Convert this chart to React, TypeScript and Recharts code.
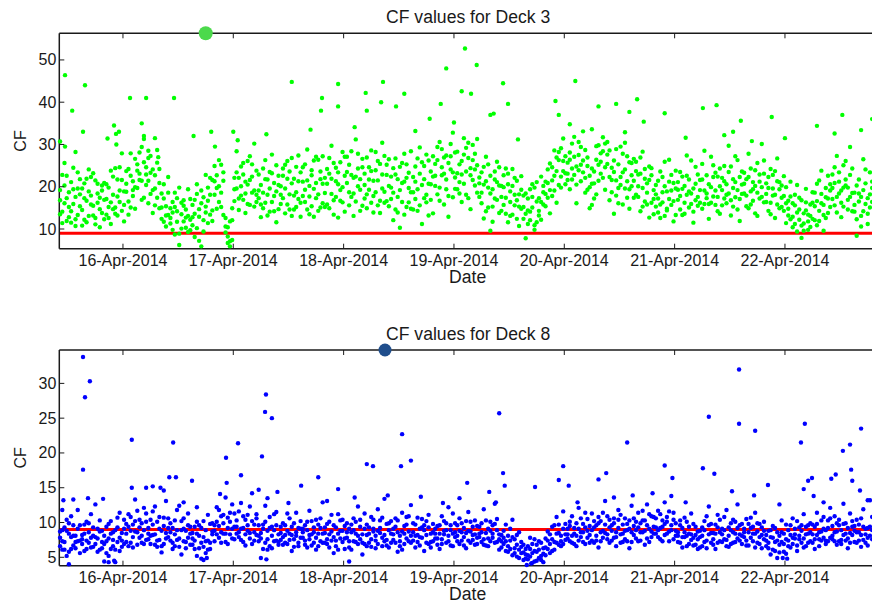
import { ScatterChart, Scatter, XAxis, YAxis, ReferenceLine } from "recharts"

const dayTicks = [16, 17, 18, 19, 20, 21, 22]
const deck3Ticks = [10, 20, 30, 40, 50]
const deck8Ticks = [5, 10, 15, 20, 25, 30]
const threshold = 9

// rows are [day of April, reading, reading, reading]
const deck3Rows: number[][] = [
  [15.43,13.5,19.2,16.8],[15.45,22.8,11.4,14.1],[15.47,16.1,25.6,20.3],[15.49,11.9,17.3,22.6],[15.51,18.7,12.8,15.2],[15.53,14.2,21.1,11.5],[15.55,24.5,15.9,19.4],[15.57,12.3,10.7,17.6],[15.59,19.6,23.4,13.3],[15.61,15.4,18.2,21.8],
  [15.63,10.8,14.5,19.6],[15.65,17.3,20.8,12.2],[15.67,21.9,11.6,16.7],[15.69,13.1,24.1,18.9],[15.71,15.8,17.9,22.3],[15.73,23.2,13.2,15.5],[15.75,12.6,21.5,11.1],[15.77,18.4,16.2,20.7],[15.79,14.7,10.4,17.4],[15.81,20.3,19.1,13.8],
  [15.83,16.9,12.3,20.9],[15.85,13.4,20.6,17.1],[15.87,19.8,15.2,12.6],[15.89,11.2,23.8,16.3],[15.91,22.4,18.1,14.7],[15.93,15.1,13.6,24.4],[15.95,17.7,21.7,13.2],[15.97,24.6,16.4,19.1],[15.99,14.3,27.9,21.6],[16.01,18.9,11.8,15.7],
  [16.03,23.7,18.8,20.7],[16.05,16.5,24.2,13.4],[16.07,27.9,15.1,22.6],[16.09,19.2,21.3,17.8],[16.11,14.8,26.6,19.9],[16.13,25.3,19.7,23.8],[16.15,21.6,23.1,28.1],[16.17,29.4,16.9,21.4],[16.19,17.4,25.8,31.3],[16.21,22.9,20.4,24.6],
  [16.23,26.8,16.1,21.4],[16.25,18.3,23.3,27.3],[16.27,24.1,13.8,19.2],[16.29,15.6,19.6,22.7],[16.31,28.7,25.7,17.4],[16.33,20.9,14.9,24.2],[16.35,12.4,18.4,15.1],[16.37,17.2,11.7,20.6],[16.39,10.6,15.4,13.2],[16.41,22.3,13.3,18.6],
  [16.43,14.9,11.3,12.6],[16.45,9.8,16.4,13.9],[16.47,18.6,8.7,15.2],[16.49,11.7,14.2,17.3],[16.51,6.2,19.8,8.9],[16.53,13.5,10.1,16.2],[16.55,16.8,15.5,11.8],[16.57,10.3,12.7,14.6],[16.59,19.4,9.3,13.1],[16.61,12.2,17.1,9.7],
  [16.63,15.7,10.9,12.8],[16.65,8.1,13.6,16.9],[16.67,20.6,18.3,10.2],[16.69,12.9,7.2,14.7],[16.71,5.9,16.1,19.1],[16.73,17.5,12.1,9.4],[16.75,22.8,15.3,13.9],[16.77,11.4,19.8,16.7],[16.79,18.1,13.4,22.1],[16.81,14.4,21.6,11.9],
  [16.83,24.9,18.1,21.3],[16.85,19.7,22.7,14.8],[16.87,26.3,16.4,20.1],[16.89,15.2,25.2,18.6],[16.91,21.4,13.3,23.4],[16.93,9.2,10.6,12.6],[16.95,6.7,8.2,10.4],[16.97,11.8,5.9,7.1],[16.99,7.4,12.1,14.9],[17.01,16.6,19.4,22.1],
  [17.03,28.4,19.6,23.4],[17.05,22.1,14.5,17.2],[17.07,17.9,24.8,20.1],[17.09,25.6,16.9,22.9],[17.11,13.8,21.2,18.4],[17.13,20.5,26.1,15.9],[17.15,27.2,15.7,21.6],[17.17,18.6,22.4,25.3],[17.19,15.3,30.2,19.1],[17.21,23.8,18.1,16.4],
  [17.23,19.1,22.9,17.3],[17.25,12.8,15.8,20.4],[17.27,24.3,18.6,14.9],[17.29,16.2,26.3,21.8],[17.31,21.7,13.2,18.1],[17.33,14.1,23.5,19.6],[17.35,27.6,16.4,23.2],[17.37,17.8,20.9,14.2],[17.39,11.6,25.1,18.9],[17.41,20.4,14.7,22.6],
  [17.43,15.9,20.1,18.1],[17.45,22.6,17.3,24.3],[17.47,13.7,25.2,19.6],[17.49,26.1,15.8,21.9],[17.51,18.2,23.6,14.6],[17.53,20.8,13.1,26.8],[17.55,14.6,21.9,17.9],[17.57,24.7,18.7,15.2],[17.59,17.1,27.4,21.3],[17.61,12.9,16.2,23.4],
  [17.63,21.2,17.8,24.6],[17.65,16.4,25.3,19.3],[17.67,28.8,14.6,21.5],[17.69,13.5,20.2,17.7],[17.71,23.9,22.7,15.4],[17.73,19.5,12.9,26.2],[17.75,17.3,27.1,20.9],[17.77,26.4,18.2,14.3],[17.79,15.1,23.6,21.8],[17.81,20.7,16.1,27.2],
  [17.83,18.5,22.1,15.2],[17.85,24.2,15.8,20.7],[17.87,14.9,26.8,23.1],[17.89,29.7,18.3,21.9],[17.91,16.8,13.4,25.6],[17.93,21.3,24.5,17.6],[17.95,12.7,20.6,23.4],[17.97,25.8,16.7,19.2],[17.99,19.9,28.2,16.3],[18.01,22.6,14.1,27.1],
  [18.03,27.1,20.9,23.5],[18.05,15.6,25.2,18.7],[18.07,22.8,17.6,28.4],[18.09,18.4,13.1,22.1],[18.11,31.2,22.4,16.5],[18.13,20.1,27.8,24.3],[18.15,14.3,19.3,21.8],[18.17,24.6,15.5,26.6],[18.19,17.2,23.1,20.4],[18.21,26.9,18.2,14.9],
  [18.23,19.3,24.6,21.7],[18.25,23.7,16.2,28.6],[18.27,13.9,21.4,17.8],[18.29,28.2,18.7,23.9],[18.31,21.5,26.1,15.6],[18.33,16.7,13.8,25.4],[18.35,30.4,22.9,19.6],[18.37,18.8,27.3,16.2],[18.39,25.2,16.6,22.8],[18.41,15.4,20.2,26.5],
  [18.43,22.4,17.1,19.8],[18.45,12.1,24.4,18.6],[18.47,26.7,14.6,22.9],[18.49,17.6,21.8,13.9],[18.51,10.3,19.2,24.7],[18.53,20.9,25.6,16.4],[18.55,27.8,13.4,21.2],[18.57,15.2,22.1,25.3],[18.59,23.3,16.3,19.7],[18.61,18.7,28.4,14.8],
  [18.63,14.6,22.3,18.7],[18.65,24.8,17.1,21.2],[18.67,19.4,26.7,14.3],[18.69,29.3,15.6,23.1],[18.71,11.2,20.4,25.8],[18.73,21.8,24.9,17.3],[18.75,16.3,18.1,27.6],[18.77,26.2,13.2,20.7],[18.79,20.6,23.6,16.9],[18.81,13.7,27.2,22.4],
  [18.83,25.4,20.2,22.6],[18.85,18.2,26.3,29.4],[18.87,30.6,16.7,19.8],[18.89,22.7,28.9,24.6],[18.91,15.8,23.1,26.9],[18.93,27.4,19.4,21.7],[18.95,12.9,25.6,17.8],[18.97,24.1,30.1,27.2],[18.99,32.8,17.5,23.4],[19.01,19.5,22.2,28.1],
  [19.03,28.3,23.2,19.4],[19.05,21.1,18.4,25.3],[19.07,16.4,26.1,22.9],[19.09,31.5,20.7,27.6],[19.11,23.6,29.2,18.1],[19.13,26.8,17.3,30.4],[19.15,14.7,24.4,22.7],[19.17,29.9,21.6,26.3],[19.19,20.3,27.8,24.1],[19.21,25.1,31.3,18.6],
  [19.23,17.6,22.2,20.8],[19.25,23.4,16.1,18.6],[19.27,12.5,20.5,24.7],[19.29,27.1,14.2,21.3],[19.31,19.8,25.3,15.1],[19.33,9.6,18.4,22.6],[19.35,15.3,11.7,19.4],[19.37,21.7,23.6,17.2],[19.39,25.9,16.9,21.1],[19.41,13.8,20.3,24.6],
  [19.43,20.2,14.3,17.6],[19.45,15.7,22.7,19.9],[19.47,24.3,17.4,13.6],[19.49,11.6,20.6,23.1],[19.51,18.9,13.1,16.4],[19.53,13.4,24.2,20.2],[19.55,22.1,15.6,18.1],[19.57,16.8,12.4,21.4],[19.59,10.7,18.2,15.3],[19.61,19.3,14.8,22.5],
  [19.63,12.4,17.9,15.2],[19.65,7.8,13.6,18.4],[19.67,17.2,11.2,14.4],[19.69,14.1,19.4,12.1],[19.71,20.6,15.1,17.6],[19.73,10.9,9.8,19.8],[19.75,16.5,21.1,11.6],[19.77,13.2,14.3,17.3],[19.79,22.4,12.2,16.4],[19.81,15.8,18.7,20.2],
  [19.83,18.3,15.4,21.2],[19.85,24.1,20.9,17.4],[19.87,13.7,25.5,19.2],[19.89,21.5,17.8,24.6],[19.91,28.6,22.6,19.1],[19.93,16.2,26.9,23.7],[19.95,26.3,20.4,28.2],[19.97,19.8,29.1,22.4],[19.99,31.4,23.7,26.1],[20.01,23.2,27.2,20.6],
  [20.03,25.7,21.6,23.1],[20.05,19.4,28.1,26.4],[20.07,30.2,24.3,21.7],[20.09,22.8,31.8,27.1],[20.11,16.1,20.5,24.8],[20.13,27.5,23.9,30.6],[20.15,21.3,29.4,25.2],[20.17,33.1,26.2,23.4],[20.19,18.6,22.1,28.7],[20.21,24.9,19.3,26.9],
  [20.23,14.9,19.9,22.6],[20.25,20.7,15.7,24.3],[20.27,17.2,23.6,20.8],[20.29,26.4,18.2,29.6],[20.31,29.8,21.4,25.2],[20.33,23.1,25.9,27.9],[20.35,31.7,28.4,22.1],[20.37,19.3,24.6,30.2],[20.39,27.6,30.6,25.4],[20.41,16.8,22.3,28.6],
  [20.43,24.5,18.7,21.6],[20.45,13.6,26.2,23.5],[20.47,28.9,21.5,17.9],[20.49,19.7,16.1,25.3],[20.51,22.3,29.5,20.4],[20.53,15.8,23.4,27.8],[20.55,30.4,19.6,24.1],[20.57,17.4,27.2,21.3],[20.59,25.8,14.8,19.4],[20.61,20.1,22.7,25.6],
  [20.63,26.6,17.4,21.4],[20.65,18.1,23.7,25.9],[20.67,22.9,20.1,17.6],[20.69,14.2,26.9,23.1],[20.71,28.3,15.3,19.7],[20.73,16.5,21.9,24.2],[20.75,20.8,18.6,15.8],[20.77,12.7,24.8,21.6],[20.79,24.4,16.2,22.7],[20.81,19.2,13.5,17.1],
  [20.83,15.3,18.2,20.4],[20.85,21.4,13.9,17.2],[20.87,12.6,23.6,15.8],[20.89,18.7,16.3,22.3],[20.91,25.9,20.1,13.1],[20.93,14.4,14.8,18.9],[20.95,17.1,26.4,21.2],[20.97,22.8,15.7,19.1],[20.99,11.8,20.9,16.6],[21.01,19.6,13.3,23.8],
  [21.03,16.9,21.1,19.3],[21.05,23.5,14.6,17.8],[21.07,13.3,19.5,22.4],[21.09,20.2,16.2,13.6],[21.11,27.4,22.6,18.1],[21.13,15.1,18.9,21.7],[21.15,18.4,26.2,15.9],[21.17,11.5,14.1,19.6],[21.19,24.7,20.7,16.8],[21.21,17.6,15.5,22.9],
  [21.23,21.6,16.2,19.2],[21.25,14.8,25.4,21.7],[21.27,28.5,19.1,15.9],[21.29,17.3,22.7,18.4],[21.31,12.4,15.9,20.6],[21.33,19.9,27.1,16.2],[21.35,25.1,17.7,22.3],[21.37,15.7,23.3,19.1],[21.39,22.4,14.2,17.6],[21.41,13.6,20.1,24.3],
  [21.43,19.2,15.6,22.1],[21.45,24.9,21.3,17.2],[21.47,16.1,18.1,20.6],[21.49,29.7,23.5,18.4],[21.51,13.2,16.8,24.8],[21.53,21.8,19.7,15.3],[21.55,17.5,27.2,21.1],[21.57,26.3,14.6,19.2],[21.59,11.9,22.3,17.1],[21.61,20.5,18.3,23.6],
  [21.63,23.3,18.4,20.7],[21.65,15.4,21.8,17.9],[21.67,27.8,14.9,22.3],[21.69,18.9,24.3,15.8],[21.71,21.1,16.7,19.4],[21.73,13.7,20.2,23.9],[21.75,25.6,13.1,18.6],[21.77,17.2,22.9,21.2],[21.79,30.1,17.6,19.9],[21.81,16.3,26.2,23.1],
  [21.83,20.8,16.4,18.3],[21.85,14.3,22.3,19.7],[21.87,24.2,13.5,16.2],[21.89,17.9,19.6,22.8],[21.91,12.6,23.7,18.1],[21.93,26.7,15.8,21.3],[21.95,19.4,21.1,14.9],[21.97,15.2,17.4,20.3],[21.99,22.5,14.3,17.8],[22.01,11.4,19.9,16.1],
  [22.03,16.7,13.2,14.8],[22.05,21.2,17.7,12.3],[22.07,12.9,10.4,16.1],[22.09,18.1,15.6,11.2],[22.11,9.4,20.4,13.9],[22.13,14.6,12.2,17.4],[22.15,7.9,16.8,10.8],[22.17,11.3,9.6,13.7],[22.19,19.5,14.4,16.3],[22.21,13.4,11.8,9.8],
  [22.23,10.5,15.8,13.1],[22.25,16.2,12.4,18.7],[22.27,12.1,18.6,15.4],[22.29,20.7,10.9,16.6],[22.31,14.3,21.5,11.9],[22.33,23.8,16.1,18.3],[22.35,9.6,13.3,15.7],[22.37,17.5,19.7,12.6],[22.39,13.8,22.6,17.2],[22.41,19.1,15.2,20.6],
  [22.43,22.9,17.1,19.7],[22.45,15.6,24.6,20.9],[22.47,27.3,13.9,17.6],[22.49,18.4,21.2,23.4],[22.51,12.8,16.2,19.1],[22.53,25.1,19.8,15.3],[22.55,20.3,26.1,21.7],[22.57,16.9,14.6,19.8],[22.59,29.4,22.8,17.6],[22.61,14.2,18.5,24.3],
  [22.63,18.6,14.1,15.7],[22.65,8.4,20.3,12.3],[22.67,21.7,16.5,18.4],[22.69,13.1,10.6,17.6],[22.71,26.5,19.2,14.2],[22.73,15.9,24.1,20.8],[22.75,11.2,13.6,17.3],[22.77,23.4,18.2,15.1],[22.79,16.4,21.2,19.7],
]

// isolated high / low readings for deck 3
const deck3Outliers: number[][] = [
  [15.43,30.7],[15.475,46.4],[15.475,29.5],[15.54,38],[15.57,28.2],[15.638,33],[15.656,44],[15.86,31.4],[15.919,34.5],[15.937,32.5],
  [15.94,30],[15.964,33],[16.064,41],[16.17,35],[16.19,32],[16.21,41],[16.23,28.5],[16.29,31.5],[16.32,27],[16.463,41],
  [16.64,32],[16.8,33],[16.834,29.5],[17.0,33],[17.04,31],[17.3,32.4],[17.53,44.8],[17.7,33.5],[17.795,38],[17.804,41],
  [17.95,44.3],[17.95,39],[18.1,34.1],[18.2,42.2],[18.21,38],[18.34,40],[18.357,44.8],[18.475,39],[18.55,42],[18.65,33.2],
  [18.78,36.1],[18.88,39.6],[18.93,48],[19.0,35.2],[19.07,42.6],[19.1,52.7],[19.155,42],[19.206,48.8],[19.33,37],[19.36,37.3],
  [19.445,44.5],[19.49,39.6],[19.58,31.2],[19.92,40.3],[19.95,37],[20.05,34.8],[20.1,45],[20.25,33.6],[20.31,39],[20.47,39.6],
  [20.55,32.9],[20.59,37.7],[20.66,40.7],[20.72,35.4],[20.91,37.4],[21.1,31.6],[21.256,38.6],[21.38,39.3],[21.45,32.2],[21.53,33],
  [21.6,35.6],[21.7,30.8],[21.88,36.5],[22.0,31.5],[22.29,34.4],[22.45,32.6],[22.52,37],[22.69,33.4],[22.79,36],
]

const deck8Rows: number[][] = [
  [15.43,6.6,7.8,8.7],[15.45,8.9,6.1,7.3],[15.47,7.2,9.3,6.1],[15.49,10.4,5.2,8.8],[15.51,5.8,8.4,9.9],[15.53,7.9,10.9,6.2],[15.55,9.6,6.7,8.1],[15.57,6.3,8.1,7.2],[15.59,11.8,7.3,9.1],[15.61,7.4,9.6,5.6],
  [15.63,8.2,6.9,7.6],[15.65,5.9,9.7,8.4],[15.67,10.1,7.4,6.2],[15.69,7.1,8.6,9.9],[15.71,6.4,11.2,7.8],[15.73,9.3,6.5,8.1],[15.75,12.6,7.9,6.9],[15.77,7.7,9.1,5.8],[15.79,6.1,10.3,8.7],[15.81,8.8,6.3,7.2],
  [15.83,4.4,8.1,6.9],[15.85,7.3,5.6,9.4],[15.87,9.8,7.7,5.2],[15.89,6.2,10.2,8.4],[15.91,8.6,6.6,7.5],[15.93,4.3,8.9,6.1],[15.95,10.7,7.2,9.3],[15.97,7.8,11.4,5.9],[15.99,6.5,8.5,7.4],[16.01,9.1,6.9,10.4],
  [16.03,8.4,7.2,9.8],[16.05,11.2,9.4,6.6],[16.07,7.1,10.8,8.8],[16.09,9.7,6.4,7.9],[16.11,13.3,8.7,10.2],[16.13,6.8,11.7,8.6],[16.15,10.4,7.8,9.3],[16.17,8.1,9.9,7.1],[16.19,12.1,6.9,8.9],[16.21,7.5,10.1,11.3],
  [16.23,9.2,7.6,8.4],[16.25,6.9,10.4,8.1],[16.27,11.6,8.2,9.7],[16.29,8.3,12.3,6.8],[16.31,7.4,6.5,10.1],[16.33,10.8,9.1,7.5],[16.35,5.7,8.8,6.6],[16.37,9.5,6.9,10.7],[16.39,13.1,7.7,8.5],[16.41,7.9,10.6,9.2],
  [16.43,8.6,9.9,7.4],[16.45,6.2,7.1,9.2],[16.47,10.3,8.3,6.6],[16.49,7.5,11.8,8.9],[16.51,12.4,6.5,7.7],[16.53,5.4,8.9,10.2],[16.55,9.1,10.6,7.3],[16.57,7.2,6.3,8.8],[16.59,11.3,7.8,9.6],[16.61,8.4,9.4,6.8],
  [16.63,6.8,8.5,7.7],[16.65,9.4,7.4,6.2],[16.67,5.2,10.1,8.4],[16.69,8.1,6.3,9.6],[16.71,4.8,9.2,7.1],[16.73,10.2,7.9,6.5],[16.75,7.3,5.6,8.9],[16.77,6.1,11.1,7.4],[16.79,9.8,7.1,6.2],[16.81,8.7,8.3,9.9],
  [16.83,9.6,7.3,8.8],[16.85,12.2,10.1,8.3],[16.87,7.8,11.8,9.5],[16.89,10.9,8.6,7.1],[16.91,8.4,9.9,11.1],[16.93,13.6,7.2,8.4],[16.95,6.9,10.7,9.2],[16.97,11.4,8.3,10.1],[16.99,9.1,12.6,7.7],[17.01,7.6,9.4,11.3],
  [17.03,10.3,8.4,9.4],[17.05,7.9,11.6,8.6],[17.07,12.8,9.1,7.5],[17.09,9.2,7.2,10.9],[17.11,6.7,10.4,8.3],[17.13,11.1,8.8,9.6],[17.15,8.5,12.3,7.7],[17.17,14.2,6.9,10.2],[17.19,7.4,9.7,8.6],[17.21,10.6,11.2,8.2],
  [17.23,8.1,9.6,7.3],[17.25,4.9,7.7,8.5],[17.27,9.7,6.2,9.1],[17.29,12.4,10.1,7.1],[17.31,7.6,8.8,6.1],[17.33,10.8,6.6,9.2],[17.35,6.3,9.4,8.1],[17.37,8.9,11.2,7.3],[17.39,11.5,7.4,9.6],[17.41,7.2,8.3,6.8],
  [17.43,9.4,7.5,8.5],[17.45,6.8,9.9,7.9],[17.47,8.2,7.1,9.6],[17.49,11.3,8.8,6.9],[17.51,7.5,10.6,8.4],[17.53,5.9,8.2,9.4],[17.55,9.9,6.5,7.6],[17.57,8.6,11.4,8.1],[17.59,7.1,9.2,6.6],[17.61,10.2,7.8,9.1],
  [17.63,7.8,9.1,8.6],[17.65,9.6,6.8,7.4],[17.67,6.4,8.9,10.1],[17.69,11.7,7.6,8.2],[17.71,8.3,10.2,6.7],[17.73,7.1,8.6,9.3],[17.75,10.4,6.1,7.8],[17.77,6.6,9.7,8.4],[17.79,9.2,7.3,10.6],[17.81,12.9,8.4,7.1],
  [17.83,8.5,7.1,9.3],[17.85,6.9,9.8,7.6],[17.87,10.1,8.3,6.4],[17.89,7.4,11.1,8.7],[17.91,5.6,7.9,9.6],[17.93,9.3,6.6,7.4],[17.95,11.2,8.4,6.1],[17.97,7.7,10.3,8.8],[17.99,8.8,7.2,10.4],[18.01,6.2,9.5,7.7],
  [18.03,9.9,7.8,8.6],[18.05,7.3,9.1,6.4],[18.07,6.1,8.6,9.7],[18.09,10.6,7.3,8.9],[18.11,8.4,10.1,7.2],[18.13,12.3,6.9,8.1],[18.15,7.6,9.4,10.4],[18.17,5.4,8.3,7.1],[18.19,9.1,11.3,6.9],[18.21,8.2,6.6,9.7],
  [18.23,7.1,9.3,8.4],[18.25,10.8,7.6,6.5],[18.27,8.7,10.4,9.1],[18.29,6.3,8.1,7.4],[18.31,11.9,6.9,8.8],[18.33,9.2,8.5,10.3],[18.35,7.8,10.7,6.6],[18.37,13.4,7.3,8.2],[18.39,6.7,9.8,7.5],[18.41,8.9,6.4,9.9],
  [18.43,10.2,8.4,7.1],[18.45,7.5,9.1,8.3],[18.47,9.4,7.1,10.6],[18.49,5.8,10.3,8.6],[18.51,8.1,6.6,7.3],[18.53,11.4,8.7,6.1],[18.55,6.9,9.5,8.4],[18.57,9.7,7.7,10.8],[18.59,7.3,10.9,8.7],[18.61,12.5,8.1,7.1],
  [18.63,8.6,7.4,9.9],[18.65,6.4,9.7,8.1],[18.67,10.7,8.2,7.2],[18.69,7.9,6.7,9.1],[18.71,9.3,10.5,7.8],[18.73,5.9,8.9,9.6],[18.75,8.2,7.1,10.2],[18.77,11.1,9.3,6.9],[18.79,7.2,6.4,8.4],[18.81,9.8,8.6,7.3],
  [18.83,7.7,9.1,8.4],[18.85,9.5,6.8,7.7],[18.87,6.2,8.4,9.6],[18.89,10.9,7.6,6.9],[18.91,8.3,10.2,8.8],[18.93,7.1,8.9,9.9],[18.95,12.2,7.3,8.1],[18.97,8.9,9.6,6.7],[18.99,6.6,11.3,8.4],[19.01,9.9,7.9,8.6],
  [19.03,8.1,7.3,9.6],[19.05,10.6,8.8,6.9],[19.07,7.4,9.9,8.6],[19.09,9.2,6.7,7.9],[19.11,6.3,8.5,10.2],[19.13,11.5,7.4,8.8],[19.15,8.7,10.1,7.1],[19.17,7.5,8.2,9.4],[19.19,10.3,6.8,8.3],[19.21,6.9,9.5,7.8],
  [19.23,9.4,7.9,8.4],[19.25,7.2,8.6,9.9],[19.27,11.9,6.8,7.6],[19.29,8.5,10.3,6.7],[19.31,6.6,7.7,9.1],[19.33,10.1,8.8,7.3],[19.35,7.8,9.6,8.4],[19.37,12.7,7.1,9.8],[19.39,8.9,10.5,7.2],[19.41,6.1,8.3,7.6],
  [19.43,8.2,6.4,7.3],[19.45,6.9,8.8,7.8],[19.47,9.7,7.3,5.9],[19.49,5.8,6.6,8.1],[19.51,7.4,9.1,6.2],[19.53,10.4,5.3,7.9],[19.55,6.3,7.6,5.6],[19.57,5.1,6.8,8.2],[19.59,8.6,4.9,6.1],[19.61,5.6,7.2,6.5],
  [19.63,4.6,5.7,6.8],[19.65,6.2,4.8,5.4],[19.67,5.3,6.6,4.7],[19.69,7.8,5.1,6.2],[19.71,4.2,6.9,5.6],[19.73,5.9,4.4,7.6],[19.75,6.8,5.8,4.5],[19.77,4.9,7.3,6.1],[19.79,7.1,4.6,5.2],[19.81,5.5,6.3,4.3],
  [19.83,6.4,7.7,5.3],[19.85,8.7,6.2,7.4],[19.87,5.6,8.3,6.9],[19.89,9.4,5.9,7.6],[19.91,7.2,9.6,6.1],[19.93,10.8,7.1,8.4],[19.95,6.8,8.5,9.7],[19.97,8.1,6.6,7.3],[19.99,11.6,9.1,6.9],[20.01,7.5,8.3,9.8],
  [20.03,9.1,7.7,8.3],[20.05,7.3,9.5,10.1],[20.07,10.9,8.1,7.1],[20.09,8.4,6.9,9.2],[20.11,6.6,9.9,8.1],[20.13,12.1,7.4,9.1],[20.15,7.9,10.6,8.6],[20.17,9.8,8.6,7.2],[20.19,6.9,11.4,9.3],[20.21,10.5,7.8,8.8],
  [20.23,8.2,9.5,7.1],[20.25,11.3,7.4,8.9],[20.27,7.1,10.2,9.3],[20.29,9.6,8.1,7.4],[20.31,6.4,9.9,10.8],[20.33,10.2,7.3,8.6],[20.35,8.8,11.4,7.8],[20.37,13.1,8.5,9.7],[20.39,7.6,10.9,8.3],[20.41,9.3,7.1,10.4],
  [20.43,7.4,8.8,9.6],[20.45,9.9,10.6,7.8],[20.47,6.6,7.9,8.6],[20.49,11.8,9.2,10.4],[20.51,8.3,11.1,7.1],[20.53,7.2,8.4,9.7],[20.55,10.6,7.6,8.8],[20.57,8.9,9.8,7.3],[20.59,6.3,10.3,9.1],[20.61,12.4,7.2,8.6],
  [20.63,9.5,8.2,10.6],[20.65,7.7,10.1,8.9],[20.67,11.4,9.3,7.3],[20.69,8.6,7.4,9.9],[20.71,10.3,11.7,8.6],[20.73,6.8,8.8,10.3],[20.75,12.6,9.6,7.7],[20.77,9.1,7.2,11.2],[20.79,7.9,10.9,8.7],[20.81,10.8,8.4,9.4],
  [20.83,8.4,10.6,9.3],[20.85,11.7,7.9,8.9],[20.87,9.2,11.2,7.6],[20.89,7.3,9.4,10.3],[20.91,12.9,8.2,9.8],[20.93,10.1,10.8,8.4],[20.95,8.7,7.3,11.6],[20.97,13.8,9.6,8.9],[20.99,7.6,11.4,10.4],[21.01,9.9,8.1,8.8],
  [21.03,7.2,8.6,8.1],[21.05,9.6,7.1,10.3],[21.07,6.4,9.2,7.9],[21.09,10.7,7.9,8.6],[21.11,8.1,10.1,6.6],[21.13,6.9,8.4,9.4],[21.15,11.3,7.5,8.3],[21.17,7.8,9.8,6.7],[21.19,9.4,6.8,8.2],[21.21,6.2,8.7,7.6],
  [21.23,8.8,7.9,6.4],[21.25,6.6,9.3,8.1],[21.27,10.2,7.2,8.9],[21.29,7.4,10.9,6.3],[21.31,12.3,8.3,9.6],[21.33,8.5,9.8,7.1],[21.35,6.8,7.6,8.5],[21.37,9.7,8.4,6.2],[21.39,11.1,7.1,9.3],[21.41,7.3,10.4,8.6],
  [21.43,9.1,8.3,7.2],[21.45,7.6,10.8,8.9],[21.47,11.8,7.5,6.6],[21.49,6.5,9.3,8.1],[21.51,8.9,6.9,9.9],[21.53,10.4,8.6,7.1],[21.55,7.2,10.1,8.4],[21.57,12.6,7.7,9.2],[21.59,8.3,9.6,7.4],[21.61,6.9,8.1,9.8],
  [21.63,7.9,9.1,8.6],[21.65,10.5,7.4,6.7],[21.67,6.7,8.6,9.8],[21.69,9.2,10.7,7.8],[21.71,8.4,7.3,9.4],[21.73,11.4,8.4,6.4],[21.75,7.1,9.9,8.7],[21.77,9.8,6.9,7.9],[21.79,6.3,8.2,9.3],[21.81,10.1,7.6,8.8],
  [21.83,6.6,8.2,7.4],[21.85,8.8,6.3,7.1],[21.87,5.4,7.9,8.9],[21.89,9.5,6.1,7.8],[21.91,7.2,9.2,5.9],[21.93,4.9,7.4,8.6],[21.95,8.1,5.7,6.8],[21.97,10.3,8.6,7.2],[21.99,5.8,6.9,8.4],[22.01,7.6,9.7,5.5],
  [22.03,8.9,7.4,6.6],[22.05,6.4,9.6,8.2],[22.07,10.6,6.9,7.8],[22.09,7.7,8.3,9.1],[22.11,5.9,10.2,6.7],[22.13,9.3,7.6,8.1],[22.15,7.1,8.8,9.6],[22.17,11.2,6.4,7.7],[22.19,6.6,9.4,8.3],[22.21,8.4,7.1,9.6],
  [22.23,7.3,8.6,9.9],[22.25,9.7,7.1,8.3],[22.27,6.2,9.4,7.6],[22.29,11.4,8.2,9.8],[22.31,8.6,6.6,7.6],[22.33,7.4,10.3,8.7],[22.35,10.8,7.8,9.1],[22.37,6.9,8.9,7.4],[22.39,9.2,7.3,10.3],[22.41,12.1,10.6,7.8],
  [22.43,8.1,9.5,7.6],[22.45,10.9,7.3,8.6],[22.47,6.8,8.7,9.9],[22.49,9.6,10.4,7.3],[22.51,7.5,6.9,8.9],[22.53,12.7,8.2,9.8],[22.55,8.4,9.9,7.4],[22.57,6.3,7.7,9.2],[22.59,11.3,8.5,7.1],[22.61,9.4,10.2,8.2],
  [22.63,7.2,8.8,9.5],[22.65,10.4,7.1,8.6],[22.67,8.6,9.7,7.4],[22.69,6.5,10.6,8.2],[22.71,11.9,7.5,9.4],[22.73,9.1,8.3,7.1],[22.75,7.8,6.7,9.2],[22.77,13.2,9.4,8.1],[22.79,8.9,10.8,7.6],
]

const deck8Outliers: number[][] = [
  [15.45,11.8],[15.46,13.2],[15.51,4.0],[15.55,13.3],[15.638,33.8],[15.638,17.6],[15.656,28],[15.683,13.5],[15.7,30.3],[15.82,13.4],
  [15.87,4.3],[15.92,4.5],[16.08,21.9],[16.08,15],[16.21,15],[16.27,15.2],[16.34,15],[16.37,14.6],[16.42,16.5],[16.455,21.5],
  [16.48,16.5],[16.55,12.9],[16.626,16],[16.67,12.2],[16.73,4.6],[16.76,4.9],[16.88,14.1],[16.934,19.3],[16.94,15.7],[17.043,21.4],
  [17.07,16.8],[17.23,14.7],[17.26,19.5],[17.288,25.9],[17.296,28.4],[17.3,4.7],[17.31,13.5],[17.35,25],[17.4,14.4],[17.5,12.8],
  [17.615,15.3],[17.77,16.5],[17.85,13.1],[17.95,14.8],[18.05,4.4],[18.1,13.6],[18.21,18.4],[18.266,18.1],[18.4,13.9],[18.52,18.1],
  [18.53,22.7],[18.61,18.9],[18.7,13.7],[18.9,12.8],[19.05,13.5],[19.12,15.7],[19.32,14.4],[19.38,12.9],[19.41,25.7],[19.445,17.1],
  [19.46,15.3],[19.66,3.9],[19.7,4.1],[19.735,15.1],[19.95,16.1],[19.99,18.1],[20.04,15.3],[20.12,12.9],[20.31,16.2],[20.38,17.1],
  [20.45,13.6],[20.57,21.5],[20.62,13.9],[20.8,14.2],[20.91,18.2],[20.98,16.4],[21.1,12.9],[21.256,17.8],[21.31,25.2],[21.36,17],
  [21.52,14.5],[21.584,32],[21.584,24.2],[21.72,13.9],[21.73,23.2],[21.846,15.4],[21.95,12.6],[21.98,4.9],[22.02,4.8],[22.145,21.5],
  [22.17,14.8],[22.18,24.2],[22.21,16],[22.245,16.4],[22.26,13.8],[22.35,12.9],[22.42,16.3],[22.46,16.9],[22.525,20.3],[22.59,21.2],
  [22.6,17.6],[22.61,16],[22.68,14.6],[22.69,23.5],[22.75,13.2],
]

const deck3Marker = [{ x: 16.75, y: 56.3 }]
const deck8Marker = [{ x: 18.375, y: 34.8 }]

const toPoints = (rows: number[][], extra: number[][]) =>
  rows
    .flatMap(([x, ...vals]) => vals.map((y) => ({ x, y })))
    .concat(extra.map(([x, y]) => ({ x, y })))

const deck3Data = toPoints(deck3Rows, deck3Outliers)
const deck8Data = toPoints(deck8Rows, deck8Outliers)

const FONT = "'Liberation Sans', Arial, Helvetica, sans-serif"
const INK = "#1a1a1a"
const X_DOMAIN = [15.423, 22.807]

function BottomTick(props: any) {
  const { x, y, payload } = props
  return (
    <g>
      <line x1={x} y1={y} x2={x} y2={y - 5} stroke={INK} strokeWidth={1} />
      <text x={x} y={y + 17} textAnchor="middle" fontSize={16} fontFamily={FONT} fill={INK}>
        {`${payload.value}-Apr-2014`}
      </text>
    </g>
  )
}

function TopTick(props: any) {
  const { x, y } = props
  return <line x1={x} y1={y} x2={x} y2={y + 5} stroke={INK} strokeWidth={1} />
}

function LeftTick(props: any) {
  const { x, y, payload } = props
  return (
    <g>
      <line x1={x} y1={y} x2={x + 5} y2={y} stroke={INK} strokeWidth={1} />
      <text x={x - 3} y={y + 5.5} textAnchor="end" fontSize={16} fontFamily={FONT} fill={INK}>
        {payload.value}
      </text>
    </g>
  )
}

const cfLabel = (props: any) => {
  const vb = props.viewBox
  const cx = vb.x + 20.5
  const cy = vb.y + vb.height / 2
  return (
    <text x={cx} y={cy} transform={`rotate(-90 ${cx} ${cy})`} textAnchor="middle" dominantBaseline="central" fontSize={16} fontFamily={FONT} fill={INK}>
      CF
    </text>
  )
}

const dateLabel = (props: any) => {
  const vb = props.viewBox
  return (
    <text x={vb.x + vb.width / 2 + 1} y={vb.y + 34.5} textAnchor="middle" fontSize={17.6} fontFamily={FONT} fill={INK}>
      Date
    </text>
  )
}

const titleLabel = (title: string) => (props: any) => {
  const vb = props.viewBox
  return (
    <text x={vb.x + vb.width / 2 + 1.5} y={vb.y + vb.height - 10.5} textAnchor="middle" fontSize={17.6} fontFamily={FONT} fill={INK}>
      {title}
    </text>
  )
}

function Panel(props: {
  title: string
  data: { x: number; y: number }[]
  marker: { x: number; y: number }[]
  yDomain: number[]
  yTicks: number[]
  color: string
  markerColor: string
  markerR: number
  height: number
  margin: { top: number; right: number; bottom: number; left: number }
  xAxisHeight: number
}) {
  const dot = (p: any) => <circle cx={p.cx} cy={p.cy} r={2.2} fill={props.color} />
  const big = (p: any) => <circle cx={p.cx} cy={p.cy} r={props.markerR} fill={props.markerColor} />
  return (
    <ScatterChart width={874} height={props.height} margin={props.margin}>
      <XAxis
        dataKey="x"
        type="number"
        domain={X_DOMAIN}
        ticks={dayTicks}
        interval={0}
        tickSize={0}
        tickMargin={0}
        tickLine={false}
        tick={<BottomTick />}
        height={props.xAxisHeight}
        axisLine={{ stroke: INK, strokeWidth: 1.5 }}
        label={{ content: dateLabel }}
      />
      <XAxis
        xAxisId="top"
        orientation="top"
        dataKey="x"
        type="number"
        domain={X_DOMAIN}
        ticks={dayTicks}
        interval={0}
        tickSize={0}
        tickMargin={0}
        tickLine={false}
        tick={<TopTick />}
        height={1}
        axisLine={{ stroke: INK, strokeWidth: 1.5 }}
        label={{ content: titleLabel(props.title) }}
      />
      <YAxis
        dataKey="y"
        type="number"
        domain={props.yDomain}
        ticks={props.yTicks}
        interval={0}
        width={59.3}
        tickSize={0}
        tickMargin={0}
        tickLine={false}
        tick={<LeftTick />}
        axisLine={{ stroke: INK, strokeWidth: 1.5 }}
        label={{ content: cfLabel }}
      />
      <Scatter data={props.data} shape={dot} isAnimationActive={false} />
      <ReferenceLine y={threshold} stroke="#ff0000" strokeWidth={3} />
      <Scatter xAxisId="top" data={props.marker} shape={big} isAnimationActive={false} />
    </ScatterChart>
  )
}

export default function App() {
  return (
    <div style={{ position: "relative", width: 872, height: 604, overflow: "hidden", background: "#fff" }}>
      <style>{`body{margin:0;overflow:hidden}`}</style>
      <Panel
        title="CF values for Deck 3"
        data={deck3Data}
        marker={deck3Marker}
        yDomain={[5.34, 56.3]}
        yTicks={deck3Ticks}
        color="#00ff00"
        markerColor="#4cd94c"
        markerR={7}
        height={300}
        margin={{ top: 32.3, right: 0, bottom: 11.3, left: 0 }}
        xAxisHeight={40}
      />
      <Panel
        title="CF values for Deck 8"
        data={deck8Data}
        marker={deck8Marker}
        yDomain={[3.79, 34.8]}
        yTicks={deck8Ticks}
        color="#0000ff"
        markerColor="#1f4e8c"
        markerR={6.5}
        height={304}
        margin={{ top: 49, right: 0, bottom: 0, left: 0 }}
        xAxisHeight={38.3}
      />
    </div>
  )
}
